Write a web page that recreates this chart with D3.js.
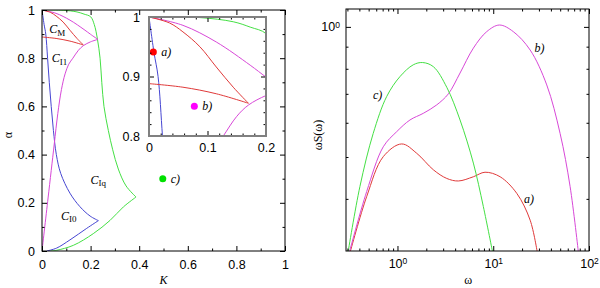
<!DOCTYPE html>
<html>
<head>
<meta charset="utf-8">
<script src="https://cdn.jsdelivr.net/npm/d3@7"></script>
<style>
body { margin: 0; background: #fff; }
svg { display: block; }
.tick text { font-family: "Liberation Sans", Arial, sans-serif; font-size: 12.5px; fill: #000; }
.lbl { font-family: "Liberation Serif", serif; font-size: 12px; }
</style>
</head>
<body>
<svg></svg>
<script>
// phase diagram boundaries, [K, alpha]
const blueUpper = [[0,1],[0.0086,0.94],[0.0155,0.9],[0.023,0.8],[0.03,0.7],[0.038,0.6],[0.047,0.5],[0.059,0.4],[0.077,0.322],[0.115,0.24],[0.156,0.184],[0.198,0.145],[0.232,0.126]];
const blueLower = [[0.02,0],[0.06,0.012],[0.115,0.046],[0.184,0.094],[0.232,0.126]];
const redUpper = [[0,1],[0.035,0.99],[0.058,0.975],[0.087,0.95],[0.115,0.916],[0.144,0.882],[0.17,0.855]];
const redLower = [[0,0.888],[0.058,0.882],[0.115,0.871],[0.17,0.855]];
const magentaUpper = [[0,1],[0.058,0.986],[0.115,0.958],[0.173,0.919],[0.2,0.899],[0.23,0.878]];
const magentaLower = [[0,0],[0.025,0.22],[0.05,0.44],[0.065,0.57],[0.08,0.67],[0.095,0.735],[0.11,0.775],[0.127,0.8],[0.15,0.833],[0.17,0.852],[0.2,0.868],[0.23,0.878]];
const greenUpper = [[0.02,1],[0.087,0.999],[0.144,0.992],[0.173,0.983],[0.2,0.972],[0.215,0.94],[0.228,0.88],[0.239,0.8],[0.246,0.7],[0.255,0.6],[0.273,0.5],[0.291,0.42],[0.314,0.34],[0.346,0.27],[0.387,0.224]];
const greenLower = [[0.035,0],[0.06,0.003],[0.129,0.0235],[0.211,0.072],[0.28,0.127],[0.335,0.183],[0.387,0.224]];

// marked points a), b), c)
const points = [
    {name: "a)", k: 0.0074, a: 0.941, color: "#ff0000", inset: true},
    {name: "b)", k: 0.0775, a: 0.850, color: "#ff00ff", inset: true},
    {name: "c)", k: 0.497, a: 0.30, color: "#00e000", inset: false}
];

// region labels
const regions = [
    {sub: "M", k: 0.03, a: 0.905},
    {sub: "I1", k: 0.04, a: 0.785},
    {sub: "Iq", k: 0.2, a: 0.28},
    {sub: "I0", k: 0.078, a: 0.13}
];

// spectra omega*S(omega), [omega, value]
const specA = [[0.319,0.30],[0.477,0.405],[0.711,0.501],[1.106,0.536],[1.588,0.510],[2.37,0.467],[3.27,0.446],[4.32,0.440],[6.2,0.450],[8.21,0.461],[11.8,0.450],[17.6,0.412],[24.3,0.357],[28.9,0.30]];
const specB = [[0.313,0.30],[0.477,0.416],[0.711,0.528],[0.98,0.572],[1.35,0.609],[1.86,0.631],[2.57,0.660],[3.40,0.700],[4.50,0.782],[6.2,0.893],[8.55,0.975],[11.6,1.01],[16.2,0.975],[24.3,0.884],[36.2,0.734],[49.9,0.567],[63.5,0.427],[77.6,0.30]];
const specC = [[0.304,0.30],[0.405,0.427],[0.558,0.567],[0.771,0.690],[1.06,0.767],[1.46,0.817],[1.83,0.827],[2.37,0.809],[3.27,0.725],[4.50,0.609],[6.2,0.484],[7.88,0.384],[9.88,0.30]];
const specLabels = [
    {name: "a)", w: 21, v: 0.391},
    {name: "b)", w: 27, v: 0.875},
    {name: "c)", w: 0.555, v: 0.68}
];

const col = {red: "#e03a3a", magenta: "#d848d8", blue: "#4646d2", green: "#44e044"};

const svg = d3.select("svg").attr("width", 600).attr("height", 288);

function ticks(g, x, y, w, h, o) {
    const strip = s => s.select(".domain").remove();
    g.append("g").attr("class", "lab").attr("transform", "translate(0," + h + ")")
        .call(d3.axisBottom(x).tickValues(o.xMajor).tickSize(-5).tickSizeOuter(0).tickPadding(o.padX).tickFormat(o.fmtX)).call(strip);
    g.append("g").attr("transform", "translate(0," + h + ")")
        .call(d3.axisBottom(x).tickValues(o.xMinor).tickSize(-2.5).tickSizeOuter(0).tickFormat("")).call(strip);
    g.append("g").call(d3.axisTop(x).tickValues(o.xMajor).tickSize(-5).tickSizeOuter(0).tickFormat("")).call(strip);
    g.append("g").call(d3.axisTop(x).tickValues(o.xMinor).tickSize(-2.5).tickSizeOuter(0).tickFormat("")).call(strip);
    g.append("g").attr("class", "lab")
        .call(d3.axisLeft(y).tickValues(o.yMajor).tickSize(-5).tickSizeOuter(0).tickPadding(o.padY).tickFormat(o.fmtY)).call(strip);
    g.append("g").call(d3.axisLeft(y).tickValues(o.yMinor).tickSize(-2.5).tickSizeOuter(0).tickFormat("")).call(strip);
    g.append("g").attr("transform", "translate(" + w + ",0)")
        .call(d3.axisRight(y).tickValues(o.yMajor).tickSize(-5).tickSizeOuter(0).tickFormat("")).call(strip);
    g.append("g").attr("transform", "translate(" + w + ",0)")
        .call(d3.axisRight(y).tickValues(o.yMinor).tickSize(-2.5).tickSizeOuter(0).tickFormat("")).call(strip);
    g.append("rect").attr("width", w).attr("height", h)
        .attr("fill", "none").attr("stroke", o.frame || "#000").attr("stroke-width", o.frameWidth || 1);
}

const dec = d => (d === 0 || d === 1) ? String(d) : d3.format(".1f")(d);

// ---------- left panel ----------
const L = {x: 42, y: 10, w: 243, h: 241};
const gl = svg.append("g").attr("transform", "translate(" + L.x + "," + L.y + ")");
const kx = d3.scaleLinear().domain([0, 1]).range([0, L.w]);
const ay = d3.scaleLinear().domain([0, 1]).range([L.h, 0]);

gl.append("clipPath").attr("id", "clipL").append("rect").attr("width", L.w).attr("height", L.h);

const lineL = d3.line().x(d => kx(d[0])).y(d => ay(d[1])).curve(d3.curveCatmullRom.alpha(0.5));
const boundaries = [
    [blueUpper, col.blue], [blueLower, col.blue],
    [greenUpper, col.green], [greenLower, col.green],
    [magentaUpper, col.magenta], [magentaLower, col.magenta],
    [redUpper, col.red], [redLower, col.red]
];
gl.append("g").attr("clip-path", "url(#clipL)")
    .selectAll("path").data(boundaries).enter().append("path")
    .attr("d", d => lineL(d[0]))
    .attr("fill", "none").attr("stroke", d => d[1]).attr("stroke-width", 1);

const regionText = gl.selectAll(".region").data(regions).enter().append("text")
    .attr("class", "lbl")
    .attr("x", d => kx(d.k)).attr("y", d => ay(d.a))
    .attr("font-style", "italic")
    .text("C");
regionText.append("tspan").attr("dy", "0.3em").attr("font-size", "9px").attr("font-style", "normal").text(d => d.sub);

const mainPts = points.filter(p => !p.inset);
gl.selectAll(".pt").data(mainPts).enter().append("circle")
    .attr("cx", d => kx(d.k)).attr("cy", d => ay(d.a)).attr("r", 3.5).attr("fill", d => d.color);
gl.selectAll(".ptl").data(mainPts).enter().append("text")
    .attr("class", "lbl").attr("font-style", "italic").attr("font-size", "11px")
    .attr("x", d => kx(d.k) + 8).attr("y", d => ay(d.a) + 4).text(d => d.name);

ticks(gl, kx, ay, L.w, L.h, {
    xMajor: d3.range(0, 1.01, 0.2), xMinor: d3.range(0.1, 1, 0.2),
    yMajor: d3.range(0, 1.01, 0.2), yMinor: d3.range(0.1, 1, 0.2),
    fmtX: dec, fmtY: dec, padX: 9, padY: 7
});

svg.append("text").attr("class", "lbl").attr("font-style", "italic").attr("text-anchor", "middle")
    .attr("x", L.x + kx(0.5)).attr("y", 284).text("K");
svg.append("text").attr("class", "lbl").attr("text-anchor", "middle")
    .attr("transform", "translate(12,135) rotate(-90)").text("α");

// ---------- inset ----------
const I = {x: 149, y: 17, w: 117, h: 119};
const gi = svg.append("g").attr("transform", "translate(" + I.x + "," + I.y + ")");
const ix = d3.scaleLinear().domain([0, 0.2]).range([0, I.w]);
const iy = d3.scaleLinear().domain([0.8, 1]).range([I.h, 0]);

gi.append("rect").attr("x", -1).attr("y", -1).attr("width", I.w + 2).attr("height", I.h + 2).attr("fill", "#fff");
gi.append("clipPath").attr("id", "clipI").append("rect").attr("width", I.w).attr("height", I.h);

const lineI = d3.line().x(d => ix(d[0])).y(d => iy(d[1])).curve(d3.curveCatmullRom.alpha(0.5));
gi.append("g").attr("clip-path", "url(#clipI)")
    .selectAll("path").data(boundaries).enter().append("path")
    .attr("d", d => lineI(d[0]))
    .attr("fill", "none").attr("stroke", d => d[1]).attr("stroke-width", 1);

const insetPts = points.filter(p => p.inset);
gi.selectAll(".pt").data(insetPts).enter().append("circle")
    .attr("cx", d => ix(d.k)).attr("cy", d => iy(d.a)).attr("r", 3.5).attr("fill", d => d.color);
gi.selectAll(".ptl").data(insetPts).enter().append("text")
    .attr("class", "lbl").attr("font-style", "italic").attr("font-size", "11px")
    .attr("x", d => ix(d.k) + 8).attr("y", d => iy(d.a) + 4).text(d => d.name);

ticks(gi, ix, iy, I.w, I.h, {
    xMajor: [0, 0.1, 0.2], xMinor: d3.range(0.02, 0.2, 0.02).filter(v => Math.abs(v - 0.1) > 1e-6),
    yMajor: [0.8, 0.9, 1], yMinor: d3.range(0.82, 1, 0.02).filter(v => Math.abs(v - 0.9) > 1e-6),
    fmtX: d => d === 0 ? "0" : d3.format(".1f")(d), fmtY: d => d === 1 ? "1" : d3.format(".1f")(d),
    padX: 7, padY: 9, frame: "#808080", frameWidth: 2
});

// ---------- right panel ----------
const R = {x: 346, y: 9, w: 243, h: 242};
const gr = svg.append("g").attr("transform", "translate(" + R.x + "," + R.y + ")");
const wx = d3.scaleLog().domain([0.29, 100]).range([0, R.w]);
const sy = d3.scaleLog().domain([0.303, 1.1]).range([R.h, 0]);

gr.append("clipPath").attr("id", "clipR").append("rect").attr("width", R.w).attr("height", R.h);
const lineR = d3.line().x(d => wx(d[0])).y(d => sy(d[1])).curve(d3.curveCatmullRom.alpha(0.5));
gr.append("g").attr("clip-path", "url(#clipR)")
    .selectAll("path").data([[specA, col.red], [specB, col.magenta], [specC, col.green]])
    .enter().append("path")
    .attr("d", d => lineR(d[0]))
    .attr("fill", "none").attr("stroke", d => d[1]).attr("stroke-width", 1);

gr.selectAll(".sl").data(specLabels).enter().append("text")
    .attr("class", "lbl").attr("font-style", "italic").attr("font-size", "11px")
    .attr("x", d => wx(d.w)).attr("y", d => sy(d.v)).text(d => d.name);

const xMinorLog = [];
[0.1, 1, 10].forEach(b => d3.range(2, 10).forEach(m => { if (b * m >= 0.29 && b * m < 100) xMinorLog.push(b * m); }));

ticks(gr, wx, sy, R.w, R.h, {
    xMajor: [1, 10, 100], xMinor: xMinorLog,
    yMajor: [1], yMinor: [0.4, 0.5, 0.6, 0.7, 0.8, 0.9],
    fmtX: () => "", fmtY: () => "", padX: 8, padY: 6
});

// powers of ten as superscripts, only on labelled axes
gr.selectAll(".lab .tick text").each(function(d) {
    const t = d3.select(this);
    t.text("10");
    t.append("tspan").attr("dy", "-0.45em").attr("font-size", "8.5px").text(Math.round(Math.log10(d)));
});

svg.append("text").attr("class", "lbl").attr("text-anchor", "middle")
    .attr("x", R.x + wx(10) - 25).attr("y", 284).text("ω");
svg.append("text").attr("class", "lbl").attr("text-anchor", "middle")
    .attr("transform", "translate(322,135) rotate(-90)").text("ωS(ω)");
</script>
</body>
</html>
